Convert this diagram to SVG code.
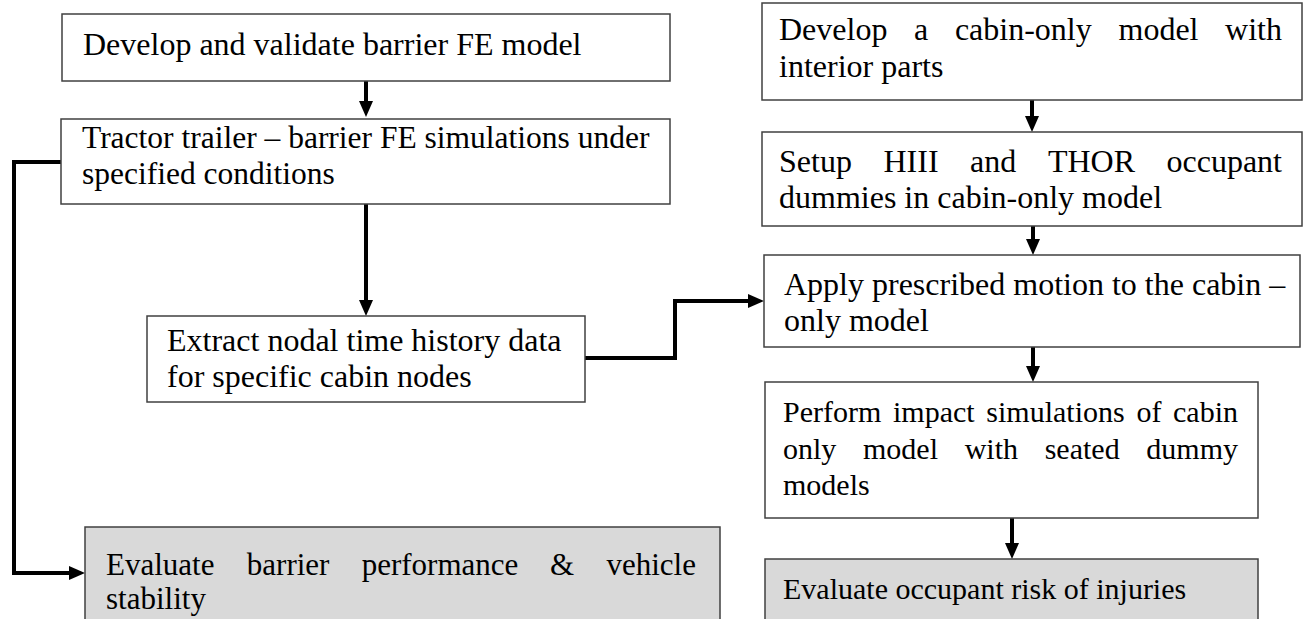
<svg xmlns="http://www.w3.org/2000/svg" width="1304" height="619" viewBox="0 0 1304 619">
<style>
.box{fill:#ffffff;stroke:#404040;stroke-width:1.5}
.gray{fill:#d9d9d9;stroke:#404040;stroke-width:1.5}
.t{font-family:"Liberation Serif","Times New Roman",serif;fill:#000;font-size:32px}
.t30{font-size:30px}
.t31{font-size:31px}
.conn{fill:none;stroke:#000;stroke-width:4;stroke-linejoin:miter}
</style>
<defs>
<marker id="ah" markerUnits="userSpaceOnUse" markerWidth="16" markerHeight="16" viewBox="0 0 16 16" refX="2" refY="8" orient="auto"><path d="M0,1 L16,8 L0,15 z" fill="#000"/></marker>
</defs>
<g id="connectors">
<path class="conn" d="M366,81 V103" marker-end="url(#ah)"/>
<path class="conn" d="M366,204 V302" marker-end="url(#ah)"/>
<path class="conn" d="M61,162 H14 V573 H71" marker-end="url(#ah)"/>
<path class="conn" d="M585,358 H675 V301 H750" marker-end="url(#ah)"/>
<path class="conn" d="M1032,100 V118" marker-end="url(#ah)"/>
<path class="conn" d="M1033,226 V241" marker-end="url(#ah)"/>
<path class="conn" d="M1033,347 V368" marker-end="url(#ah)"/>
<path class="conn" d="M1012,518 V545" marker-end="url(#ah)"/>
</g>
<g id="n1">
<rect class="box" x="62" y="14" width="608" height="67"/>
<text class="t" x="83" y="55">Develop and validate barrier FE model</text>
</g>
<g id="n2">
<rect class="box" x="61" y="119" width="609" height="85"/>
<text class="t" x="82" y="148" style="font-size:31.5px">Tractor trailer – barrier FE simulations under</text>
<text class="t" x="82" y="184" style="font-size:31.5px">specified conditions</text>
</g>
<g id="n3">
<rect class="box" x="147" y="316" width="438" height="86"/>
<text class="t" x="167" y="351">Extract nodal time history data</text>
<text class="t" x="167" y="387">for specific cabin nodes</text>
</g>
<g id="n4">
<rect class="gray" x="85" y="527" width="635" height="100"/>
<text class="t t31" y="575"><tspan x="106">Evaluate</tspan><tspan x="246.8">barrier</tspan><tspan x="361.7">performance</tspan><tspan x="550">&amp;</tspan></text>
<text class="t t31" x="696" y="575" text-anchor="end">vehicle</text>
<text class="t t31" x="106" y="609">stability</text>
</g>
<g id="n5">
<rect class="box" x="762" y="3" width="540" height="97"/>
<text class="t" y="40"><tspan x="779">Develop</tspan><tspan x="914.1">a</tspan><tspan x="954.9">cabin-only</tspan><tspan x="1118.5">model</tspan></text>
<text class="t" x="1282" y="40" text-anchor="end">with</text>
<text class="t" x="779" y="77">interior parts</text>
</g>
<g id="n6">
<rect class="box" x="762" y="132" width="540" height="94"/>
<text class="t" y="172"><tspan x="779">Setup</tspan><tspan x="883.5">HIII</tspan><tspan x="970.1">and</tspan><tspan x="1047.9">THOR</tspan></text>
<text class="t" x="1282" y="172" text-anchor="end">occupant</text>
<text class="t" x="779" y="208">dummies in cabin-only model</text>
</g>
<g id="n7">
<rect class="box" x="764" y="255" width="536" height="92"/>
<text class="t" x="784" y="295">Apply prescribed motion to the cabin –</text>
<text class="t" x="784" y="331">only model</text>
</g>
<g id="n8">
<rect class="box" x="765" y="382" width="493" height="136"/>
<text class="t t30" y="422"><tspan x="783">Perform</tspan><tspan x="893">impact</tspan><tspan x="986.3">simulations</tspan><tspan x="1136.4">of</tspan></text>
<text class="t t30" x="1238" y="422" text-anchor="end">cabin</text>
<text class="t t30" y="459"><tspan x="783">only</tspan><tspan x="863">model</tspan><tspan x="964.7">with</tspan><tspan x="1044.7">seated</tspan></text>
<text class="t t30" x="1238" y="459" text-anchor="end">dummy</text>
<text class="t t30" x="783" y="495">models</text>
</g>
<g id="n9">
<rect class="gray" x="765" y="559" width="493" height="62"/>
<text class="t t30" x="783" y="599">Evaluate occupant risk of injuries</text>
</g>
</svg>
